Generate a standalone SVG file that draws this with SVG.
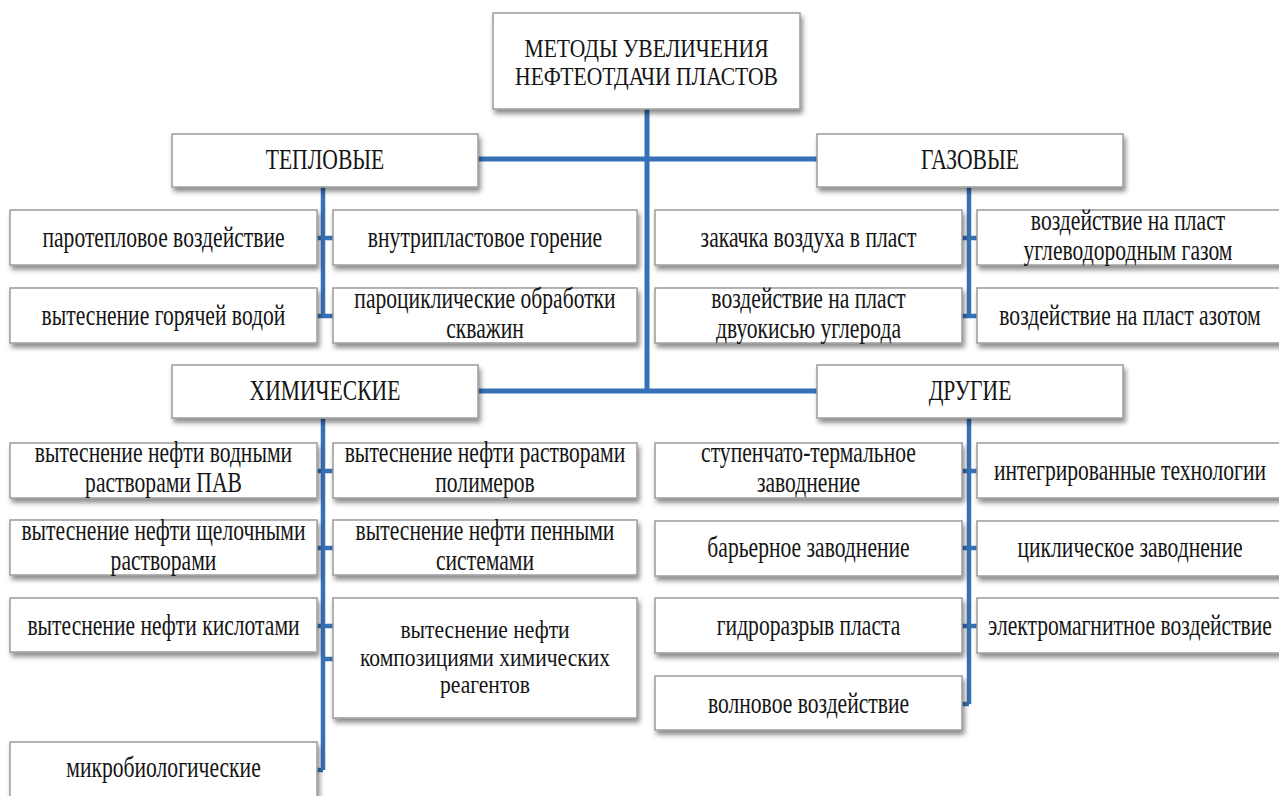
<svg xmlns="http://www.w3.org/2000/svg" width="1279" height="796" viewBox="0 0 1279 796">
  <defs>
    <filter id="shadow" x="-5%" y="-20%" width="115%" height="150%">
      <feDropShadow dx="2" dy="4" stdDeviation="2.5" flood-color="#000" flood-opacity="0.45"/>
    </filter>
    <style>
      .box { fill: #fff; stroke: #9c9c9c; stroke-width: 1.5; filter: url(#shadow); }
      .lbl { font-family: 'Liberation Serif', 'DejaVu Serif', 'Noto Serif', serif; font-size: 30px; fill: #141414; text-anchor: middle; }
      .sm { font-size: 26px; }
      .wire { stroke: #3671b6; stroke-width: 5; fill: none; }
      .twig { stroke: #3671b6; stroke-width: 4.5; fill: none; }
    </style>
  </defs>
  <rect width="1279" height="796" fill="#fff"/>

  <!-- connectors -->
  <g id="connectors">
    <path class="wire" d="M647 109 V392 M478 159 H817 M478 391 H817"/>
    <!-- thermal branch -->
    <path class="twig" d="M323 187 V316 M317 238 H333 M317 316 H333"/>
    <!-- gas branch -->
    <path class="twig" d="M969 187 V316 M962 238 H977 M962 316 H977"/>
    <!-- chemical branch -->
    <path class="twig" d="M323 418 V770 M317 471 H333 M317 548 H333 M317 626 H333 M323 659 H333 M317 770 H323"/>
    <!-- other branch -->
    <path class="twig" d="M969 418 V704 M962 471 H977 M962 548 H977 M962 626 H977 M962 704 H969"/>
  </g>

  <g font-family="Liberation Serif, DejaVu Serif, serif">
  <!-- root -->
  <g id="root">
    <rect class="box" x="493" y="13" width="307" height="96"/>
    <text class="lbl sm" transform="translate(646.5,57) scale(0.83,1)"><tspan x="0">МЕТОДЫ УВЕЛИЧЕНИЯ</tspan><tspan x="0" dy="28">НЕФТЕОТДАЧИ  ПЛАСТОВ</tspan></text>
  </g>

  <!-- category nodes -->
  <g id="thermal">
    <rect class="box" x="172" y="134" width="306" height="53"/>
    <text class="lbl" transform="translate(325,169) scale(0.72,1)">ТЕПЛОВЫЕ</text>
  </g>
  <g id="gas">
    <rect class="box" x="817" y="134" width="306" height="53"/>
    <text class="lbl" transform="translate(970,169) scale(0.72,1)">ГАЗОВЫЕ</text>
  </g>
  <g id="chemical">
    <rect class="box" x="172" y="365" width="306" height="53"/>
    <text class="lbl" transform="translate(325,400) scale(0.72,1)">ХИМИЧЕСКИЕ</text>
  </g>
  <g id="other">
    <rect class="box" x="817" y="365" width="306" height="53"/>
    <text class="lbl" transform="translate(970,400) scale(0.72,1)">ДРУГИЕ</text>
  </g>

  <!-- thermal methods -->
  <g id="t1">
    <rect class="box" x="10" y="210" width="307" height="55"/>
    <text class="lbl" transform="translate(163.5,247) scale(0.72,1)">паротепловое воздействие</text>
  </g>
  <g id="t2">
    <rect class="box" x="333" y="210" width="304" height="55"/>
    <text class="lbl" transform="translate(485,247) scale(0.72,1)">внутрипластовое горение</text>
  </g>
  <g id="t3">
    <rect class="box" x="10" y="288" width="307" height="55"/>
    <text class="lbl" transform="translate(163.5,325) scale(0.72,1)">вытеснение горячей водой</text>
  </g>
  <g id="t4">
    <rect class="box" x="333" y="288" width="304" height="55"/>
    <text class="lbl" transform="translate(485,308) scale(0.72,1)"><tspan x="0">пароциклические обработки</tspan><tspan x="0" dy="30">скважин</tspan></text>
  </g>

  <!-- gas methods -->
  <g id="g1">
    <rect class="box" x="655" y="210" width="307" height="55"/>
    <text class="lbl" transform="translate(808.5,247) scale(0.72,1)">закачка  воздуха  в пласт</text>
  </g>
  <g id="g2">
    <rect class="box" x="977" y="210" width="310" height="55"/>
    <text class="lbl" transform="translate(1128,230) scale(0.72,1)"><tspan x="0">воздействие на пласт</tspan><tspan x="0" dy="30">углеводородным газом</tspan></text>
  </g>
  <g id="g3">
    <rect class="box" x="655" y="288" width="307" height="55"/>
    <text class="lbl" transform="translate(808.5,308) scale(0.72,1)"><tspan x="0">воздействие на пласт</tspan><tspan x="0" dy="30">двуокисью  углерода</tspan></text>
  </g>
  <g id="g4">
    <rect class="box" x="977" y="288" width="310" height="55"/>
    <text class="lbl" transform="translate(1130,325) scale(0.72,1)">воздействие на пласт азотом</text>
  </g>

  <!-- chemical methods -->
  <g id="c1">
    <rect class="box" x="10" y="443" width="307" height="55"/>
    <text class="lbl" transform="translate(163.5,462) scale(0.72,1)"><tspan x="0">вытеснение нефти  водными</tspan><tspan x="0" dy="30">растворами ПАВ</tspan></text>
  </g>
  <g id="c2">
    <rect class="box" x="333" y="443" width="304" height="55"/>
    <text class="lbl" transform="translate(485,462) scale(0.72,1)"><tspan x="0">вытеснение нефти растворами</tspan><tspan x="0" dy="30">полимеров</tspan></text>
  </g>
  <g id="c3">
    <rect class="box" x="10" y="520" width="307" height="55"/>
    <text class="lbl" transform="translate(163.5,540) scale(0.72,1)"><tspan x="0">вытеснение нефти  щелочными</tspan><tspan x="0" dy="30">растворами</tspan></text>
  </g>
  <g id="c4">
    <rect class="box" x="333" y="520" width="304" height="55"/>
    <text class="lbl" transform="translate(485,540) scale(0.72,1)"><tspan x="0">вытеснение нефти  пенными</tspan><tspan x="0" dy="30">системами</tspan></text>
  </g>
  <g id="c5">
    <rect class="box" x="10" y="598" width="307" height="54"/>
    <text class="lbl" transform="translate(163.5,635) scale(0.72,1)">вытеснение нефти  кислотами</text>
  </g>
  <g id="c6">
    <rect class="box" x="333" y="598" width="304" height="120"/>
    <text class="lbl sm" transform="translate(485,638) scale(0.83,1)"><tspan x="0">вытеснение нефти</tspan><tspan x="0" dy="28">композициями химических</tspan><tspan x="0" dy="27">реагентов</tspan></text>
  </g>
  <g id="c7">
    <rect class="box" x="10" y="742" width="307" height="70"/>
    <text class="lbl" transform="translate(163.5,777) scale(0.72,1)">микробиологические</text>
  </g>

  <!-- other methods -->
  <g id="o1">
    <rect class="box" x="655" y="443" width="307" height="55"/>
    <text class="lbl" transform="translate(808.5,462) scale(0.72,1)"><tspan x="0">ступенчато-термальное</tspan><tspan x="0" dy="30">заводнение</tspan></text>
  </g>
  <g id="o2">
    <rect class="box" x="977" y="443" width="310" height="55"/>
    <text class="lbl" transform="translate(1130,480) scale(0.72,1)">интегрированные технологии</text>
  </g>
  <g id="o3">
    <rect class="box" x="655" y="521" width="307" height="55"/>
    <text class="lbl" transform="translate(808.5,557) scale(0.72,1)">барьерное заводнение</text>
  </g>
  <g id="o4">
    <rect class="box" x="977" y="521" width="310" height="55"/>
    <text class="lbl" transform="translate(1130,557) scale(0.72,1)">циклическое заводнение</text>
  </g>
  <g id="o5">
    <rect class="box" x="655" y="598" width="307" height="55"/>
    <text class="lbl" transform="translate(808.5,635) scale(0.72,1)">гидроразрыв пласта</text>
  </g>
  <g id="o6">
    <rect class="box" x="977" y="598" width="310" height="55"/>
    <text class="lbl" transform="translate(1130,635) scale(0.72,1)">электромагнитное воздействие</text>
  </g>
  <g id="o7">
    <rect class="box" x="655" y="676" width="307" height="54"/>
    <text class="lbl" transform="translate(808.5,713) scale(0.72,1)">волновое воздействие</text>
  </g>
  </g>
</svg>
